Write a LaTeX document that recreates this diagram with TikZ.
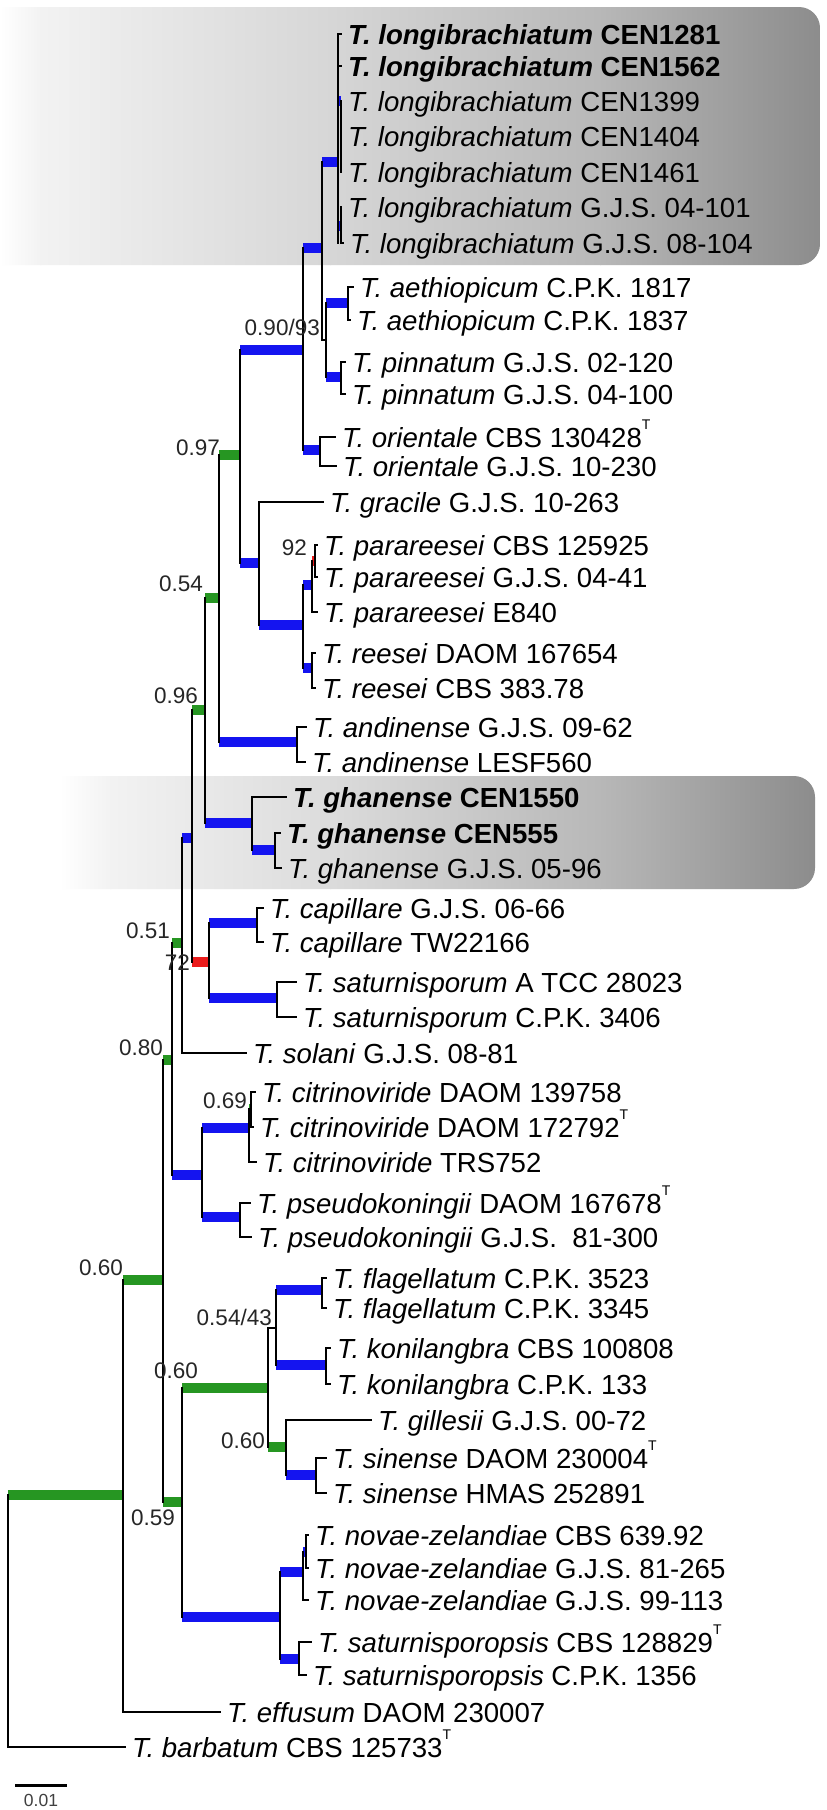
\documentclass[tikz,border=0pt]{standalone}
\usepackage{fontspec}
\setmainfont{Liberation Sans}
\newcommand\lfont{\fontsize{27.6}{30}\selectfont}
\newcommand\nfont{\fontsize{22.5}{24}\selectfont}
\newcommand\bfont{\fontsize{17.5}{19}\selectfont}
\newcommand\supT{\raisebox{0.62em}{\fontsize{14}{14}\selectfont T}}
\newcommand\tax[1]{\textit{T. #1}}
\definecolor{cblue}{RGB}{20,20,240}
\definecolor{cgreen}{RGB}{38,150,34}
\definecolor{cred}{RGB}{235,28,28}
\tikzset{
 br/.style={line width=2pt, line cap=rect, black},
 bb/.style={line width=9.5pt, cblue},
 bgn/.style={line width=9.5pt, cgreen},
 brd/.style={line width=9.5pt, cred},
 lab/.style={font=\lfont, anchor=west, inner xsep=7pt, inner ysep=0pt, text height=20pt, text depth=0pt},
 sup/.style={font=\nfont, anchor=base east, inner sep=0pt, text=black!85},
}
\begin{document}
\begin{tikzpicture}[x=1pt,y=-1pt]
\useasboundingbox (0,0) rectangle (827,1810);
\fill[white] (0,0) rectangle (827,1810);
% highlight boxes
\begin{scope}
\clip[rounded corners=21pt] (-60,7) rectangle (820,265);
\shade[left color=white, right color=black!5] (0,7) rectangle (41,265);
\shade[left color=black!5, right color=black!16] (40,7) rectangle (331,265);
\shade[left color=black!16, right color=black!28] (330,7) rectangle (601,265);
\shade[left color=black!28, right color=black!45] (600,7) rectangle (820,265);
\end{scope}
\begin{scope}
\clip[rounded corners=21pt] (-60,776) rectangle (815,889);
\shade[left color=white, right color=black!5] (60,776) rectangle (111,889);
\shade[left color=black!5, right color=black!14] (110,776) rectangle (331,889);
\shade[left color=black!14, right color=black!28] (330,776) rectangle (601,889);
\shade[left color=black!28, right color=black!45] (600,776) rectangle (815,889);
\end{scope}
% internal nodes
\coordinate (root) at (8,1495);
\coordinate (X) at (123,1495);
\coordinate (W) at (163,1280);
\coordinate (U) at (172,1060);
\coordinate (T) at (182,943);
\coordinate (S) at (192,838);
\coordinate (R) at (205,710);
\coordinate (Q) at (219,598);
\coordinate (N0) at (240,455);
\coordinate (N1) at (303,350);
\coordinate (N2) at (322,248);
\coordinate (L) at (338,162);
\coordinate (L1) at (341,101);
\coordinate (L2) at (341,226);
\coordinate (AP) at (326,340);
\coordinate (AE) at (348,303);
\coordinate (PI) at (341,377);
\coordinate (OR) at (320,450);
\coordinate (GP) at (259,563);
\coordinate (PR) at (303,625);
\coordinate (P) at (312,585);
\coordinate (Pp) at (315,561);
\coordinate (RE) at (312,668);
\coordinate (AN) at (297,742);
\coordinate (GH) at (252,823);
\coordinate (GH2) at (275,850);
\coordinate (CS) at (209,962);
\coordinate (CA) at (257,923);
\coordinate (SA) at (277,998);
\coordinate (V) at (202,1175);
\coordinate (CI) at (249,1128);
\coordinate (CIp) at (251,1109);
\coordinate (PS) at (240,1217);
\coordinate (Y) at (182,1502);
\coordinate (Z) at (268,1388);
\coordinate (FK) at (276,1328);
\coordinate (FL) at (322,1290);
\coordinate (KO) at (326,1365);
\coordinate (GS) at (286,1447);
\coordinate (SI) at (316,1475);
\coordinate (NS) at (280,1617);
\coordinate (NZ) at (303,1572);
\coordinate (NZp) at (306,1552);
\coordinate (SP) at (299,1659);
% leaf labels
\node[lab] (l1) at (341,34) {\textbf{\tax{longibrachiatum} CEN1281}};
\node[lab] (l2) at (341,66) {\textbf{\tax{longibrachiatum} CEN1562}};
\node[lab] (l3) at (341,101) {\tax{longibrachiatum} CEN1399};
\node[lab] (l4) at (341,136) {\tax{longibrachiatum} CEN1404};
\node[lab] (l5) at (341,172) {\tax{longibrachiatum} CEN1461};
\node[lab] (l6) at (341,207) {\tax{longibrachiatum} G.J.S. 04-101};
\node[lab] (l7) at (343,243) {\tax{longibrachiatum} G.J.S. 08-104};
\node[lab] (l8) at (353,287) {\tax{aethiopicum} C.P.K. 1817};
\node[lab] (l9) at (350,320) {\tax{aethiopicum} C.P.K. 1837};
\node[lab] (l10) at (345,362) {\tax{pinnatum} G.J.S. 02-120};
\node[lab] (l11) at (345,394) {\tax{pinnatum} G.J.S. 04-100};
\node[lab] (l12) at (335,437) {\tax{orientale} CBS 130428\supT};
\node[lab] (l13) at (336,466) {\tax{orientale} G.J.S. 10-230};
\node[lab] (l14) at (323,502) {\tax{gracile} G.J.S. 10-263};
\node[lab] (l15) at (317,545) {\tax{parareesei} CBS 125925};
\node[lab] (l16) at (317,577) {\tax{parareesei} G.J.S. 04-41};
\node[lab] (l17) at (317,612) {\tax{parareesei} E840};
\node[lab] (l18) at (315,653) {\tax{reesei} DAOM 167654};
\node[lab] (l19) at (315,688) {\tax{reesei} CBS 383.78};
\node[lab] (l20) at (306,727) {\tax{andinense} G.J.S. 09-62};
\node[lab] (l21) at (305,762) {\tax{andinense} LESF560};
\node[lab] (l22) at (286,797) {\textbf{\tax{ghanense} CEN1550}};
\node[lab] (l23) at (280,833) {\textbf{\tax{ghanense} CEN555}};
\node[lab] (l24) at (281,868) {\tax{ghanense} G.J.S. 05-96};
\node[lab] (l25) at (263,908) {\tax{capillare} G.J.S. 06-66};
\node[lab] (l26) at (263,942) {\tax{capillare} TW22166};
\node[lab] (l27) at (296,982) {\tax{saturnisporum} A TCC 28023};
\node[lab] (l28) at (296,1017) {\tax{saturnisporum} C.P.K. 3406};
\node[lab] (l29) at (246,1053) {\tax{solani} G.J.S. 08-81};
\node[lab] (l30) at (255,1092) {\tax{citrinoviride} DAOM 139758};
\node[lab] (l31) at (253,1127) {\tax{citrinoviride} DAOM 172792\supT};
\node[lab] (l32) at (256,1162) {\tax{citrinoviride} TRS752};
\node[lab] (l33) at (250,1203) {\tax{pseudokoningii} DAOM 167678\supT};
\node[lab] (l34) at (251,1237) {\tax{pseudokoningii} G.J.S.~ 81-300};
\node[lab] (l35) at (326,1278) {\tax{flagellatum} C.P.K. 3523};
\node[lab] (l36) at (326,1308) {\tax{flagellatum} C.P.K. 3345};
\node[lab] (l37) at (330,1348) {\tax{konilangbra} CBS 100808};
\node[lab] (l38) at (330,1384) {\tax{konilangbra} C.P.K. 133};
\node[lab] (l39) at (371,1420) {\tax{gillesii} G.J.S. 00-72};
\node[lab] (l40) at (326,1458) {\tax{sinense} DAOM 230004\supT};
\node[lab] (l41) at (326,1493) {\tax{sinense} HMAS 252891};
\node[lab] (l42) at (308,1535) {\tax{novae-zelandiae} CBS 639.92};
\node[lab] (l43) at (308,1568) {\tax{novae-zelandiae} G.J.S. 81-265};
\node[lab] (l44) at (308,1600) {\tax{novae-zelandiae} G.J.S. 99-113};
\node[lab] (l45) at (311,1642) {\tax{saturnisporopsis} CBS 128829\supT};
\node[lab] (l46) at (306,1675) {\tax{saturnisporopsis} C.P.K. 1356};
\node[lab] (l47) at (220,1712) {\tax{effusum} DAOM 230007};
\node[lab] (l48) at (125,1747) {\tax{barbatum} CBS 125733\supT};
% coloured branches
\draw[bgn] (root) -- (X);
\draw[bgn] (X |- W) -- (W);
\draw[bgn] (W |- U) -- (U);
\draw[bgn] (W |- Y) -- (Y);
\draw[bgn] (Y |- Z) -- (Z);
\draw[bb] (Y |- NS) -- (NS);
\draw[bgn] (Z |- GS) -- (GS);
\draw[bb] (FK |- FL) -- (FL);
\draw[bb] (FK |- KO) -- (KO);
\draw[bb] (GS |- SI) -- (SI);
\draw[bb] (NS |- NZ) -- (NZ);
\draw[bb] (NS |- SP) -- (SP);
\draw[bb] (NZ |- NZp) -- (NZp);
\draw[bgn] (U |- T) -- (T);
\draw[bb] (U |- V) -- (V);
\draw[bb] (V |- CI) -- (CI);
\draw[bb] (V |- PS) -- (PS);
\draw[bgn] (CI |- CIp) -- (CIp);
\draw[bb] (T |- S) -- (S);
\draw[bgn] (S |- R) -- (R);
\draw[brd] (S |- CS) -- (CS);
\draw[bb] (CS |- CA) -- (CA);
\draw[bb] (CS |- SA) -- (SA);
\draw[bgn] (R |- Q) -- (Q);
\draw[bb] (R |- GH) -- (GH);
\draw[bb] (GH |- GH2) -- (GH2);
\draw[bgn] (Q |- N0) -- (N0);
\draw[bb] (Q |- AN) -- (AN);
\draw[bb] (N0 |- N1) -- (N1);
\draw[bb] (N0 |- GP) -- (GP);
\draw[bb] (GP |- PR) -- (PR);
\draw[bb] (PR |- P) -- (P);
\draw[bb] (PR |- RE) -- (RE);
\draw[brd] (P |- Pp) -- (Pp);
\draw[bb] (N1 |- N2) -- (N2);
\draw[bb] (N1 |- OR) -- (OR);
\draw[bb] (N2 |- L) -- (L);
\draw[bb] (AP |- AE) -- (AE);
\draw[bb] (AP |- PI) -- (PI);
\draw[bb] (L |- L1) -- (L1);
\draw[bb] (L |- L2) -- (L2);
% black branches
\draw[br] (Z |- FK) -- (FK);
\draw[br] (N2 |- AP) -- (AP);
% verticals
\draw[br] (root) -- (root |- l48.west);
\draw[br] (X |- W) -- (X |- l47.west);
\draw[br] (W |- U) -- (W |- Y);
\draw[br] (U |- T) -- (U |- V);
\draw[br] (T |- S) -- (T |- l29.west);
\draw[br] (S |- R) -- (S |- CS);
\draw[br] (R |- Q) -- (R |- GH);
\draw[br] (Q |- N0) -- (Q |- AN);
\draw[br] (N0 |- N1) -- (N0 |- GP);
\draw[br] (N1 |- N2) -- (N1 |- OR);
\draw[br] (N2 |- L) -- (N2 |- AP);
\draw[br] (L |- l1.west) -- (L |- l7.west);
\draw[br] (L1 |- l3.west) -- (L1 |- l5.west);
\draw[br] (L2 |- l6.west) -- (L2 |- l7.west);
\draw[br] (AP |- AE) -- (AP |- PI);
\draw[br] (AE |- l8.west) -- (AE |- l9.west);
\draw[br] (PI |- l10.west) -- (PI |- l11.west);
\draw[br] (OR |- l12.west) -- (OR |- l13.west);
\draw[br] (GP |- l14.west) -- (GP |- PR);
\draw[br] (PR |- P) -- (PR |- RE);
\draw[br] (P |- Pp) -- (P |- l17.west);
\draw[br] (Pp |- l15.west) -- (Pp |- l16.west);
\draw[br] (RE |- l18.west) -- (RE |- l19.west);
\draw[br] (AN |- l20.west) -- (AN |- l21.west);
\draw[br] (GH |- l22.west) -- (GH |- GH2);
\draw[br] (GH2 |- l23.west) -- (GH2 |- l24.west);
\draw[br] (CS |- CA) -- (CS |- SA);
\draw[br] (CA |- l25.west) -- (CA |- l26.west);
\draw[br] (SA |- l27.west) -- (SA |- l28.west);
\draw[br] (V |- CI) -- (V |- PS);
\draw[br] (CI |- CIp) -- (CI |- l32.west);
\draw[br] (CIp |- l30.west) -- (CIp |- l31.west);
\draw[br] (PS |- l33.west) -- (PS |- l34.west);
\draw[br] (Y |- Z) -- (Y |- NS);
\draw[br] (Z |- FK) -- (Z |- GS);
\draw[br] (FK |- FL) -- (FK |- KO);
\draw[br] (FL |- l35.west) -- (FL |- l36.west);
\draw[br] (KO |- l37.west) -- (KO |- l38.west);
\draw[br] (GS |- l39.west) -- (GS |- SI);
\draw[br] (SI |- l40.west) -- (SI |- l41.west);
\draw[br] (NS |- NZ) -- (NS |- SP);
\draw[br] (NZ |- NZp) -- (NZ |- l44.west);
\draw[br] (NZp |- l42.west) -- (NZp |- l43.west);
\draw[br] (SP |- l45.west) -- (SP |- l46.west);
% leaf branches
\foreach \p/\l in {L/l1,L/l2,L1/l3,L1/l4,L1/l5,L2/l6,L2/l7,AE/l8,AE/l9,PI/l10,PI/l11,OR/l12,OR/l13,GP/l14,Pp/l15,Pp/l16,P/l17,RE/l18,RE/l19,AN/l20,AN/l21,GH/l22,GH2/l23,GH2/l24,CA/l25,CA/l26,SA/l27,SA/l28,T/l29,CIp/l30,CIp/l31,CI/l32,PS/l33,PS/l34,FL/l35,FL/l36,KO/l37,KO/l38,GS/l39,SI/l40,SI/l41,NZp/l42,NZp/l43,NZ/l44,SP/l45,SP/l46,X/l47,root/l48}
  \draw[br] (\p |- \l.west) -- (\l.west);
% support values
\node[sup] (s1) at (320,335) {0.90/93};
\node[sup] (s2) at (220,455) {0.97};
\node[sup] (s3) at (203,591) {0.54};
\node[sup] (s4) at (198,703) {0.96};
\node[sup] (s5) at (307,555) {92};
\node[sup] (s6) at (170,938) {0.51};
\node[sup] (s7) at (190,970) {72};
\node[sup] (s8) at (163,1055) {0.80};
\node[sup] (s9) at (247,1108) {0.69};
\node[sup] (s10) at (123,1275) {0.60};
\node[sup] (s11) at (272,1325) {0.54/43};
\node[sup] (s12) at (198,1378) {0.60};
\node[sup] (s13) at (265,1448) {0.60};
\node[sup] (s14) at (175,1525) {0.59};
% scale bar
\coordinate (sb1) at (15,1785);
\coordinate (sb2) at (67,1785);
\draw[line width=3pt] (sb1) -- (sb2);
\node[font=\bfont, text=black!75, inner sep=0pt] (sbl) at (41,1800) {0.01};
\end{tikzpicture}
\end{document}
